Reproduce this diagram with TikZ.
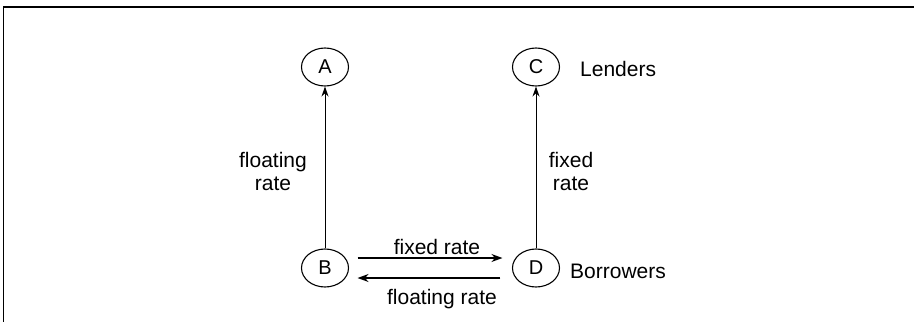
\documentclass[tikz,border=0pt]{standalone}
\usepackage{fontspec}
\setmainfont{Liberation Sans}
\usetikzlibrary{shapes.geometric,arrows.meta}
\begin{document}
\begin{tikzpicture}[x=1pt,y=-1pt,
  party/.style={draw,ellipse,minimum width=47pt,minimum height=38pt,inner sep=0pt,line width=1.1pt,font=\fontsize{20}{23}\selectfont},
  lbl/.style={font=\fontsize{21}{23}\selectfont,inner sep=0pt,align=center},
  flow/.style={-{Stealth[length=10pt,width=7pt]},line width=0.9pt},
  swapflow/.style={-{Stealth[length=11pt,width=8pt]},line width=1.5pt}]
\useasboundingbox (0,0) rectangle (914,327);
\draw[line width=1.5pt] (914,7) -- (3.5,7) -- (3.5,322);
\node[party] (A) at (325,67) {A};
\node[party] (C) at (536,67) {C};
\node[party] (B) at (325,268) {B};
\node[party] (D) at (536,268) {D};
\node[lbl,anchor=base west] (len) at (580,76) {Lenders};
\node[lbl,anchor=base west] (bor) at (570,278) {Borrowers};
\draw[flow] (B) -- (A);
\draw[flow] (D) -- (C);
\draw[swapflow,shorten <=8.5pt,shorten >=9.5pt] ([yshift=10pt]B.east) -- ([yshift=10pt]D.west);
\draw[swapflow,shorten <=11.5pt,shorten >=8.5pt] ([yshift=-10pt]D.west) -- ([yshift=-10pt]B.east);
\node[lbl] (fl) at (273,171) {floating\\rate};
\node[lbl] (fx) at (571,171) {fixed\\rate};
\node[lbl,anchor=base] (fxh) at (437,254) {fixed rate};
\node[lbl,anchor=base] (flh) at (442,304) {floating rate};
\end{tikzpicture}
\end{document}
